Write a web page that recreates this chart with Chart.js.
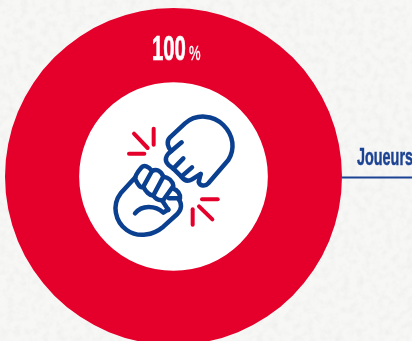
<!DOCTYPE html>
<html>
<head>
<meta charset="utf-8">
<style>
  html, body { margin: 0; padding: 0; width: 412px; height: 341px; overflow: hidden; background: #f7f7f6; }
  #wrap { position: relative; width: 412px; height: 345px; }
  #paper { position: absolute; left: 0; top: 0; }
  #chart { position: absolute; left: 0; top: 0; }
  #icon { position: absolute; left: 100px; top: 90px; }
</style>
<script src="https://cdn.jsdelivr.net/npm/chart.js@4"></script>
</head>
<body>
<div id="wrap">
  <svg id="paper" width="412" height="345">
    <filter id="grain">
      <feTurbulence type="fractalNoise" baseFrequency="0.14" numOctaves="3" seed="4"/>
      <feColorMatrix values="0 0 0 0 0.6  0 0 0 0 0.6  0 0 0 0 0.6  0.35 0 0 0 -0.14"/>
    </filter>
    <rect width="412" height="345" filter="url(#grain)"/>
  </svg>
  <canvas id="chart" width="412" height="345"></canvas>
  <svg id="icon" width="150" height="160" viewBox="0 0 450 480" fill="none" stroke-linecap="round" stroke-linejoin="round">
    <g stroke="#0b3f8f" stroke-width="13.5">
      <!-- upper hand -->
      <path d="M245 157 L214 183 C203 172 198 155 210 142 L255 100 C290 70 340 75 370 105 C402 137 405 178 385 210 L325 280 C315 291 300 288 296 276 L302 252"/>
      <path d="M214 183 C195 197 193 212 205 224 L220 236 L250 205"/>
      <path d="M220 236 L244 260 L276 232"/>
      <path d="M244 260 C254 274 266 274 276 268 L302 252"/>
      <!-- fist -->
      <path d="M125 232 C132 224 145 228 156 243 L130 290 C122 298 112 280 106 268 C103 258 118 240 125 232 Z"/>
      <path d="M156 243 C168 236 182 240 190 260 L160 316 C150 318 136 304 130 290"/>
      <path d="M190 260 C205 262 218 272 220 288 L190 330 C178 332 166 326 160 316"/>
      <path d="M220 296 C232 300 242 312 240 325 L207 325"/>
      <path d="M187 332 L205 360"/>
      <path d="M106 262 L62 310 C35 345 45 395 80 420 C115 445 160 435 190 410 L232 372 C246 358 246 340 236 328"/>
      <path d="M105 370 C125 345 165 345 190 368 L205 358"/>
    </g>
    <g stroke="#e4002b" stroke-width="12">
      <path d="M102 131 L143 174"/>
      <path d="M161 116 L161 164"/>
      <path d="M87 191 L133 191"/>
      <path d="M306 328 L353 328"/>
      <path d="M297 349 L337 388"/>
      <path d="M278 358 L278 404"/>
    </g>
  </svg>
</div>
<script>
const categories = ['Joueurs'];
const seriesValues = [100];

// condensed text: the installed narrow face is squeezed further along x
function squeezed(ctx, text, x, y, sx, font, color, weight) {
  ctx.save();
  ctx.translate(x, y);
  ctx.scale(sx, 1);
  ctx.font = font;
  ctx.fillStyle = color;
  ctx.strokeStyle = color;
  ctx.lineWidth = weight;
  ctx.fillText(text, 0, 0);
  if (weight > 0) ctx.strokeText(text, 0, 0);
  ctx.restore();
}

// white hole behind the ring, then the percentage and the name with its leader
const ringLabels = {
  id: 'ringLabels',
  beforeDatasetsDraw(chart) {
    const ctx = chart.ctx;
    const arc = chart.getDatasetMeta(0).data[0];
    ctx.save();
    ctx.fillStyle = '#ffffff';
    ctx.beginPath();
    ctx.arc(arc.x, arc.y, arc.innerRadius + 1, 0, Math.PI * 2);
    ctx.fill();
    ctx.restore();
  },
  afterDatasetsDraw(chart) {
    const ctx = chart.ctx;
    const arc = chart.getDatasetMeta(0).data[0];
    const total = seriesValues.reduce((s, v) => s + v, 0);
    const pct = Math.round(seriesValues[0] / total * 100);
    const narrow = '"Liberation Sans Narrow", "Liberation Sans", sans-serif';

    squeezed(ctx, String(pct), 152, 60, 0.58, 'bold 35px ' + narrow, '#ffffff', 0.7);
    squeezed(ctx, '%', 189, 60, 0.62, '21px ' + narrow, '#ffffff', 0.4);
    squeezed(ctx, categories[0], 357, 165, 0.6, 'bold 24px ' + narrow, '#1c4293', 0.5);

    ctx.strokeStyle = '#1c4293';
    ctx.lineWidth = 2;
    ctx.beginPath();
    ctx.moveTo(arc.x + arc.outerRadius, 177.5);
    ctx.lineTo(chart.width, 177.5);
    ctx.stroke();
  }
};

new Chart(document.getElementById('chart'), {
  type: 'doughnut',
  data: {
    labels: categories,
    datasets: [{
      data: seriesValues,
      backgroundColor: ['#e4002b'],
      borderWidth: 0
    }]
  },
  options: {
    responsive: false,
    animation: false,
    cutout: '56%',
    layout: { padding: { left: 5, right: 70, top: 8, bottom: 0 } },
    plugins: {
      legend: { display: false },
      tooltip: { enabled: false }
    }
  },
  plugins: [ringLabels]
});
</script>
</body>
</html>
